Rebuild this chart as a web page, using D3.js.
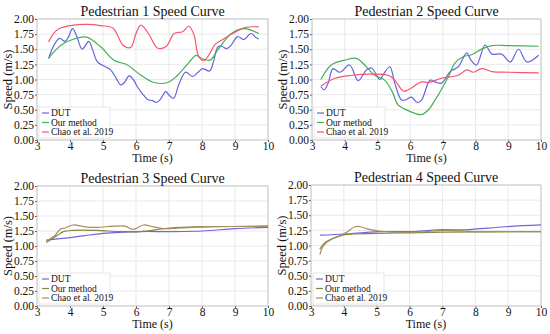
<!DOCTYPE html>
<html>
<head>
<meta charset="utf-8">
<script src="https://cdn.jsdelivr.net/npm/d3@7"></script>
<style>
  body { margin: 0; background: #fff; }
  svg text { font-family: "Times New Roman", "Liberation Serif", Times, serif; fill: #111; }
</style>
</head>
<body>
<script>
// speed curves, [time (s), speed (m/s)]
const ped1Dut = [[3.35,1.35],[3.5,1.55],[3.68,1.68],[3.85,1.63],[3.95,1.70],[4.08,1.84],[4.2,1.72],[4.37,1.50],[4.57,1.63],[4.68,1.50],[4.83,1.29],[5.0,1.23],[5.23,1.16],[5.4,1.02],[5.54,0.91],[5.65,0.95],[5.79,1.06],[5.92,1.00],[6.04,0.88],[6.2,0.76],[6.35,0.67],[6.5,0.65],[6.62,0.62],[6.75,0.68],[6.9,0.80],[7.02,0.73],[7.14,0.69],[7.3,0.92],[7.5,1.12],[7.72,1.05],[7.88,1.12],[8.02,1.18],[8.23,1.14],[8.35,1.30],[8.48,1.54],[8.6,1.55],[8.75,1.51],[8.9,1.58],[9.08,1.71],[9.27,1.66],[9.48,1.76],[9.62,1.70],[9.72,1.67]];
const ped1Ours = [[3.35,1.35],[3.5,1.45],[3.76,1.58],[4.12,1.67],[4.5,1.70],[4.93,1.54],[5.33,1.32],[5.74,1.24],[6.15,1.07],[6.55,0.95],[6.96,0.95],[7.26,1.07],[7.62,1.29],[7.82,1.40],[8.02,1.34],[8.25,1.32],[8.48,1.49],[8.89,1.76],[9.29,1.84],[9.72,1.76]];
const ped1Chao = [[3.35,1.62],[3.5,1.76],[3.66,1.84],[4.12,1.90],[4.52,1.91],[4.93,1.89],[5.3,1.85],[5.45,1.72],[5.6,1.57],[5.84,1.53],[6.0,1.76],[6.15,1.90],[6.4,1.74],[6.65,1.52],[6.9,1.54],[7.16,1.76],[7.41,1.79],[7.6,1.88],[7.75,1.75],[7.9,1.38],[8.05,1.31],[8.2,1.40],[8.4,1.58],[8.65,1.67],[9.0,1.78],[9.3,1.86],[9.72,1.87]];

const ped2Dut = [[3.27,0.88],[3.37,0.83],[3.5,0.95],[3.64,1.18],[3.85,1.12],[4.15,1.24],[4.41,0.98],[4.67,1.16],[4.82,1.19],[5.07,1.00],[5.2,1.10],[5.38,1.21],[5.53,0.94],[5.74,0.66],[5.89,0.67],[6.04,0.71],[6.22,0.62],[6.35,0.66],[6.61,0.99],[6.76,0.96],[6.96,0.94],[7.22,1.13],[7.47,1.21],[7.73,1.44],[7.85,1.33],[8.03,1.24],[8.29,1.57],[8.5,1.42],[8.8,1.42],[9.06,1.29],[9.31,1.50],[9.57,1.29],[9.93,1.40]];
const ped2Ours = [[3.27,1.00],[3.59,1.24],[4.0,1.32],[4.36,1.35],[4.61,1.24],[4.92,1.07],[5.22,0.99],[5.45,0.80],[5.63,0.58],[5.84,0.51],[6.15,0.44],[6.35,0.42],[6.56,0.50],[6.76,0.66],[6.96,0.84],[7.17,1.05],[7.37,1.27],[7.63,1.38],[7.88,1.41],[8.14,1.49],[8.5,1.56],[9.01,1.56],[9.93,1.55]];
const ped2Chao = [[3.27,0.89],[3.7,1.02],[4.21,1.07],[4.82,1.09],[5.33,1.07],[5.53,0.99],[5.79,0.81],[5.94,0.83],[6.35,0.96],[6.56,0.95],[6.96,1.02],[7.47,1.07],[7.73,1.16],[7.93,1.12],[8.19,1.18],[8.5,1.13],[9.01,1.12],[9.93,1.11]];

const ped3Dut = [[3.28,1.10],[4.0,1.14],[5.0,1.21],[6.12,1.24],[7.0,1.24],[8.03,1.25],[9.0,1.29],[10.0,1.31]];
const ped3Ours = [[3.28,1.06],[3.6,1.17],[3.8,1.24],[4.1,1.26],[4.8,1.26],[5.5,1.24],[6.12,1.24],[7.03,1.30],[8.03,1.32],[10.0,1.33]];
const ped3Chao = [[3.28,1.08],[3.55,1.18],[3.7,1.28],[3.85,1.30],[4.1,1.35],[4.45,1.32],[4.81,1.31],[5.31,1.33],[5.67,1.33],[5.87,1.28],[6.0,1.29],[6.22,1.35],[6.52,1.32],[6.83,1.29],[7.33,1.30],[8.03,1.32],[10.0,1.33]];

const ped4Dut = [[3.27,1.17],[4.03,1.19],[5.05,1.23],[6.17,1.23],[6.88,1.26],[7.69,1.26],[8.9,1.31],[10.0,1.34]];
const ped4Ours = [[3.27,0.94],[3.43,1.05],[3.73,1.13],[4.03,1.18],[5.0,1.20],[6.0,1.21],[7.0,1.22],[10.0,1.23]];
const ped4Chao = [[3.27,0.85],[3.35,0.97],[3.5,1.06],[3.73,1.13],[4.03,1.20],[4.34,1.31],[4.5,1.31],[4.74,1.27],[5.05,1.24],[6.17,1.22],[7.08,1.25],[8.0,1.23],[10.0,1.23]];

const seriesNames = ["DUT", "Our method", "Chao et al. 2019"];
const xTicks = [3, 4, 5, 6, 7, 8, 9, 10];
const yTicks = [0, 0.25, 0.5, 0.75, 1.0, 1.25, 1.5, 1.75, 2.0];

const colorsTop = ["#6464dc", "#43b053", "#f5566c"];
const colorsBottom = ["#7761de", "#7b8a3e", "#a98b5e"];

const serif = '"Times New Roman", "Liberation Serif", Times, serif';

const panels = [
  { title: "Pedestrian 1 Speed Curve", data: [ped1Dut, ped1Ours, ped1Chao], colors: colorsTop, x0: 37, x1: 268, y0: 19, y1: 140 },
  { title: "Pedestrian 2 Speed Curve", data: [ped2Dut, ped2Ours, ped2Chao], colors: colorsTop, x0: 312, x1: 541, y0: 19, y1: 140 },
  { title: "Pedestrian 3 Speed Curve", data: [ped3Dut, ped3Ours, ped3Chao], colors: colorsBottom, x0: 37, x1: 268, y0: 186, y1: 306 },
  { title: "Pedestrian 4 Speed Curve", data: [ped4Dut, ped4Ours, ped4Chao], colors: colorsBottom, x0: 311, x1: 541, y0: 185, y1: 306 }
];

const svg = d3.select("body").append("svg")
  .attr("width", 550)
  .attr("height", 334)
  .attr("font-family", serif);

panels.forEach(function (p) {
  const x = d3.scaleLinear().domain([3, 10]).range([p.x0, p.x1]);
  const y = d3.scaleLinear().domain([0, 2]).range([p.y1, p.y0]);
  const g = svg.append("g");

  // grid
  g.selectAll(".vg").data(xTicks).enter().append("line")
    .attr("x1", d => x(d)).attr("x2", d => x(d))
    .attr("y1", p.y0).attr("y2", p.y1)
    .attr("stroke", "#e3e3e3").attr("stroke-width", 0.8);
  g.selectAll(".hg").data(yTicks).enter().append("line")
    .attr("x1", p.x0).attr("x2", p.x1)
    .attr("y1", d => y(d)).attr("y2", d => y(d))
    .attr("stroke", "#e3e3e3").attr("stroke-width", 0.8);

  // axes
  const xAxis = g.append("g").attr("transform", `translate(0,${p.y1})`)
    .call(d3.axisBottom(x).tickValues(xTicks).tickSize(2).tickPadding(0).tickFormat(d3.format("d")));
  const yAxis = g.append("g").attr("transform", `translate(${p.x0},0)`)
    .call(d3.axisLeft(y).tickValues(yTicks).tickSize(2).tickPadding(1).tickFormat(d3.format(".2f")));
  [xAxis, yAxis].forEach(a => {
    a.attr("font-family", serif);
    a.select(".domain").remove();
    a.selectAll(".tick line").attr("stroke", "#555");
    a.selectAll("text").style("font-size", "11.5px")
      .style("font-family", serif).attr("fill", "#111");
  });

  // frame
  g.append("rect")
    .attr("x", p.x0).attr("y", p.y0)
    .attr("width", p.x1 - p.x0).attr("height", p.y1 - p.y0)
    .attr("fill", "none").attr("stroke", "#bdbdbd").attr("stroke-width", 0.8);

  // curves
  const line = d3.line()
    .x(d => x(d[0]))
    .y(d => y(d[1]))
    .curve(d3.curveCatmullRom.alpha(0.5));
  p.data.forEach(function (s, i) {
    g.append("path").datum(s)
      .attr("d", line)
      .attr("fill", "none")
      .attr("stroke", p.colors[i])
      .attr("stroke-width", 1.2);
  });

  // titles and labels
  const cx = (p.x0 + p.x1) / 2;
  g.append("text").attr("x", cx).attr("y", p.y0 - 3)
    .attr("text-anchor", "middle").style("font-size", "14px").text(p.title);
  g.append("text").attr("x", cx).attr("y", p.y1 + 22)
    .attr("text-anchor", "middle").style("font-size", "12px").text("Time (s)");
  g.append("text")
    .attr("transform", `translate(${p.x0 - 25},${(p.y0 + p.y1) / 2}) rotate(-90)`)
    .attr("text-anchor", "middle").style("font-size", "12.5px").text("Speed (m/s)");

  // legend
  const lg = g.append("g").attr("transform", `translate(${p.x0 + 2},${p.y1 - 33})`);
  lg.append("rect").attr("width", 71).attr("height", 31)
    .attr("fill", "#fff").attr("fill-opacity", 0.85)
    .attr("stroke", "#e0e0e0").attr("stroke-width", 0.8);
  seriesNames.forEach(function (name, i) {
    const ly = 6 + i * 9.5;
    lg.append("line").attr("x1", 3).attr("x2", 10).attr("y1", ly).attr("y2", ly)
      .attr("stroke", p.colors[i]).attr("stroke-width", 1.2);
    lg.append("text").attr("x", 12).attr("y", ly + 3)
      .style("font-size", "9.5px").text(name);
  });
});
</script>
</body>
</html>
